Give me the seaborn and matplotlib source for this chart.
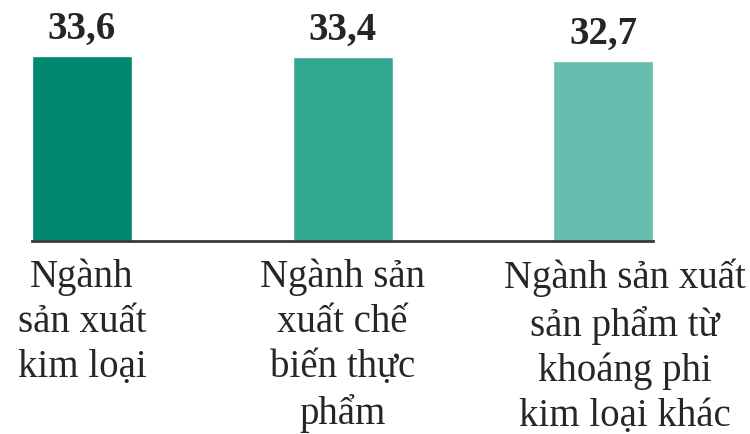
import matplotlib
matplotlib.use("Agg")
import matplotlib.pyplot as plt
import matplotlib.transforms as mtransforms
import seaborn as sns
import pandas as pd

categories = [
    "Ngành\nsản xuất\nkim loại",
    "Ngành sản\nxuất chế\nbiến thực\nphẩm",
    "Ngành sản xuất\nsản phẩm từ\nkhoáng phi\nkim loại khác",
]
values = [33.6, 33.4, 32.7]
value_labels = ["33,6", "33,4", "32,7"]
colors = ["#00896F", "#32A893", "#66BEAE"]

df = pd.DataFrame({"cat": categories, "val": values})

sns.set_style("white")
plt.rcParams["font.family"] = ["Liberation Serif", "DejaVu Serif"]

fig = plt.figure(figsize=(7.5, 4.35), dpi=100)
ax = fig.add_axes([0.0427, 0.4437, 0.828, 0.455])

sns.barplot(data=df, x="cat", y="val", hue="cat", palette=colors,
            width=0.384, legend=False, ax=ax, saturation=1)

ax.set_xlim(-0.192, 2.192)
ax.set_ylim(0, 36)

for i, (v, lab) in enumerate(zip(values, value_labels)):
    ax.annotate(lab, (i, v), xytext=(0, 7), textcoords="offset points",
                ha="center", va="bottom", fontsize=28, fontweight="bold")

ax.set_xlabel("")
ax.set_ylabel("")
ax.set_yticks([])
ax.tick_params(axis="x", length=0, pad=12, labelsize=28)
for lbl in ax.get_xticklabels():
    lbl.set_linespacing(1.28)
# third label sits a bit to the right of its bar in the original
last = ax.get_xticklabels()[-1]
last.set_transform(last.get_transform() +
                   mtransforms.ScaledTranslation(0.22, 0, fig.dpi_scale_trans))

for s in ["top", "left", "right"]:
    ax.spines[s].set_visible(False)
ax.spines["bottom"].set_color("#3a3a3a")
ax.spines["bottom"].set_linewidth(2)

fig.savefig("out.png", dpi=100)
